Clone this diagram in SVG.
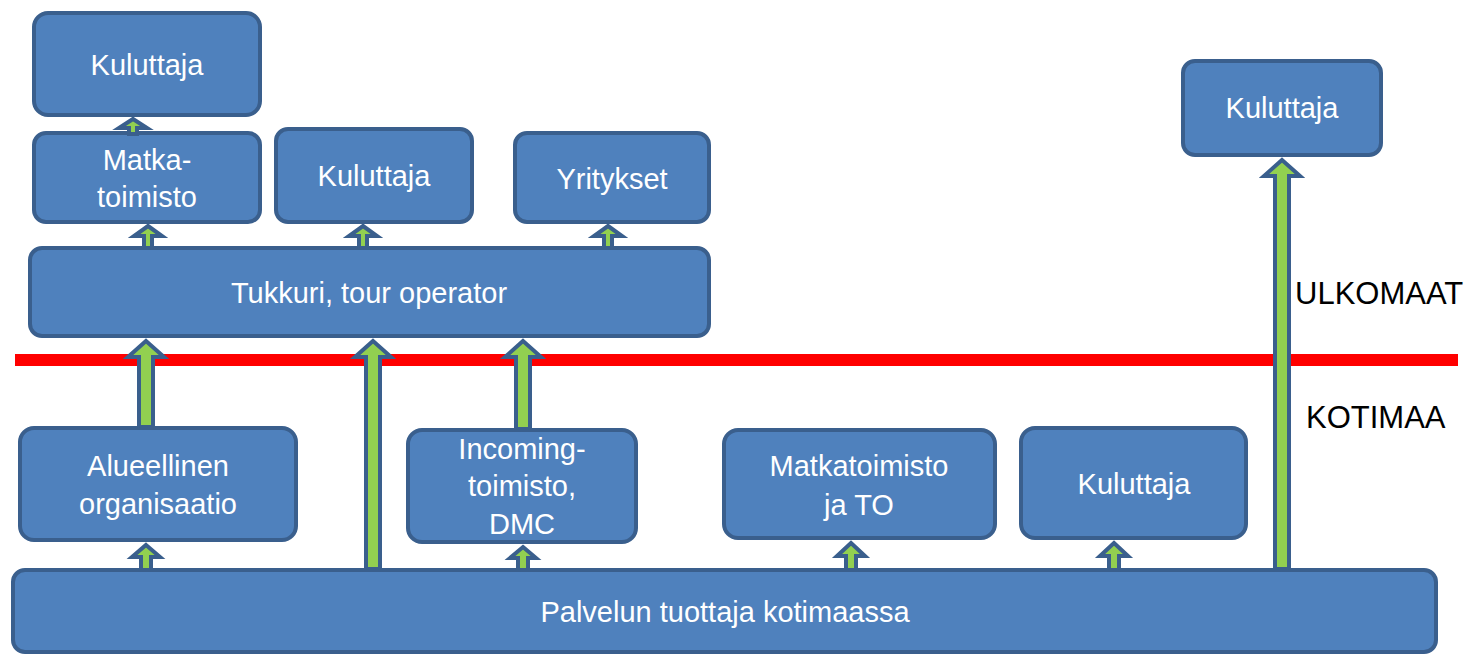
<svg xmlns="http://www.w3.org/2000/svg" width="1468" height="654" viewBox="0 0 1468 654">
<style>
.n{fill:#4F81BD;stroke:#3A5F8D;stroke-width:4}
.t{fill:#fff;font-family:"Liberation Sans",Arial,sans-serif;font-size:29px;text-anchor:middle}
.l{fill:#000;font-family:"Liberation Sans",Arial,sans-serif;font-size:31px}
.a{fill:#92D050;stroke:#3A5F8D;stroke-width:4;stroke-linejoin:miter}
</style>
<rect width="1468" height="654" fill="#fff"/>
<g id="red-line"><rect x="15" y="354" width="1443" height="12" fill="#FF0000"/></g>
<g id="kuluttaja1"><rect class="n" x="34" y="13" width="226" height="102" rx="14"/><text class="t" x="147" y="75">Kuluttaja</text></g>
<g id="matkatoimisto1"><rect class="n" x="34" y="133" width="226" height="89" rx="12"/><text class="t" x="147" y="170">Matka-</text><text class="t" x="147" y="207">toimisto</text></g>
<g id="kuluttaja2"><rect class="n" x="276" y="129" width="196" height="93" rx="12"/><text class="t" x="374" y="186">Kuluttaja</text></g>
<g id="yritykset"><rect class="n" x="515" y="133" width="194" height="89" rx="12"/><text class="t" x="612" y="189">Yritykset</text></g>
<g id="tukkuri"><rect class="n" x="30" y="248" width="679" height="88" rx="12"/><text class="t" x="369" y="303">Tukkuri, tour operator</text></g>
<g id="kuluttaja3"><rect class="n" x="1183" y="61" width="198" height="94" rx="12"/><text class="t" x="1282" y="118">Kuluttaja</text></g>
<g id="alueellinen"><rect class="n" x="20" y="428" width="276" height="112" rx="14"/><text class="t" x="158" y="476">Alueellinen</text><text class="t" x="158" y="514">organisaatio</text></g>
<g id="incoming"><rect class="n" x="408" y="430" width="228" height="112" rx="14"/><text class="t" x="522" y="459">Incoming-</text><text class="t" x="522" y="496">toimisto,</text><text class="t" x="522" y="534">DMC</text></g>
<g id="matkatoimisto2"><rect class="n" x="724" y="430" width="271" height="108" rx="14"/><text class="t" x="859" y="476">Matkatoimisto</text><text class="t" x="859" y="515">ja TO</text></g>
<g id="kuluttaja4"><rect class="n" x="1021" y="428" width="225" height="110" rx="14"/><text class="t" x="1134" y="494">Kuluttaja</text></g>
<g id="palvelun"><rect class="n" x="13" y="570" width="1423" height="82" rx="12"/><text class="t" x="725" y="622">Palvelun tuottaja kotimaassa</text></g>
<g id="labels"><text class="l" x="1295" y="304">ULKOMAAT</text><text class="l" x="1306" y="428">KOTIMAA</text></g>
<g id="connectors">
<path class="a" d="M146,341 L164,357 L153,357 L153,427 L139,427 L139,357 L128,357 Z"/>
<path class="a" d="M373,341 L391,357 L380,357 L380,569 L366,569 L366,357 L355,357 Z"/>
<path class="a" d="M523,341 L541,357 L530,357 L530,429 L516,429 L516,357 L505,357 Z"/>
<path class="a" d="M1282,160 L1300,176 L1289,176 L1289,569 L1275,569 L1275,176 L1264,176 Z"/>
<path class="a" d="M133,119 L147,128 L137,128 L137,134 L129,134 L129,128 L119,128 Z"/>
<path class="a" d="M148,226 L162,236 L152,236 L152,248 L144,248 L144,236 L134,236 Z"/>
<path class="a" d="M363,226 L377,236 L367,236 L367,248 L359,248 L359,236 L349,236 Z"/>
<path class="a" d="M608,226 L622,236 L612,236 L612,248 L604,248 L604,236 L594,236 Z"/>
<path class="a" d="M146,545 L160,557 L151,557 L151,570 L141,570 L141,557 L132,557 Z"/>
<path class="a" d="M523,547 L536,558 L528,558 L528,570 L518,570 L518,558 L510,558 Z"/>
<path class="a" d="M851,543 L865,556 L856,556 L856,570 L846,570 L846,556 L837,556 Z"/>
<path class="a" d="M1114,543 L1128,556 L1119,556 L1119,570 L1109,570 L1109,556 L1100,556 Z"/>
</g>
</svg>
